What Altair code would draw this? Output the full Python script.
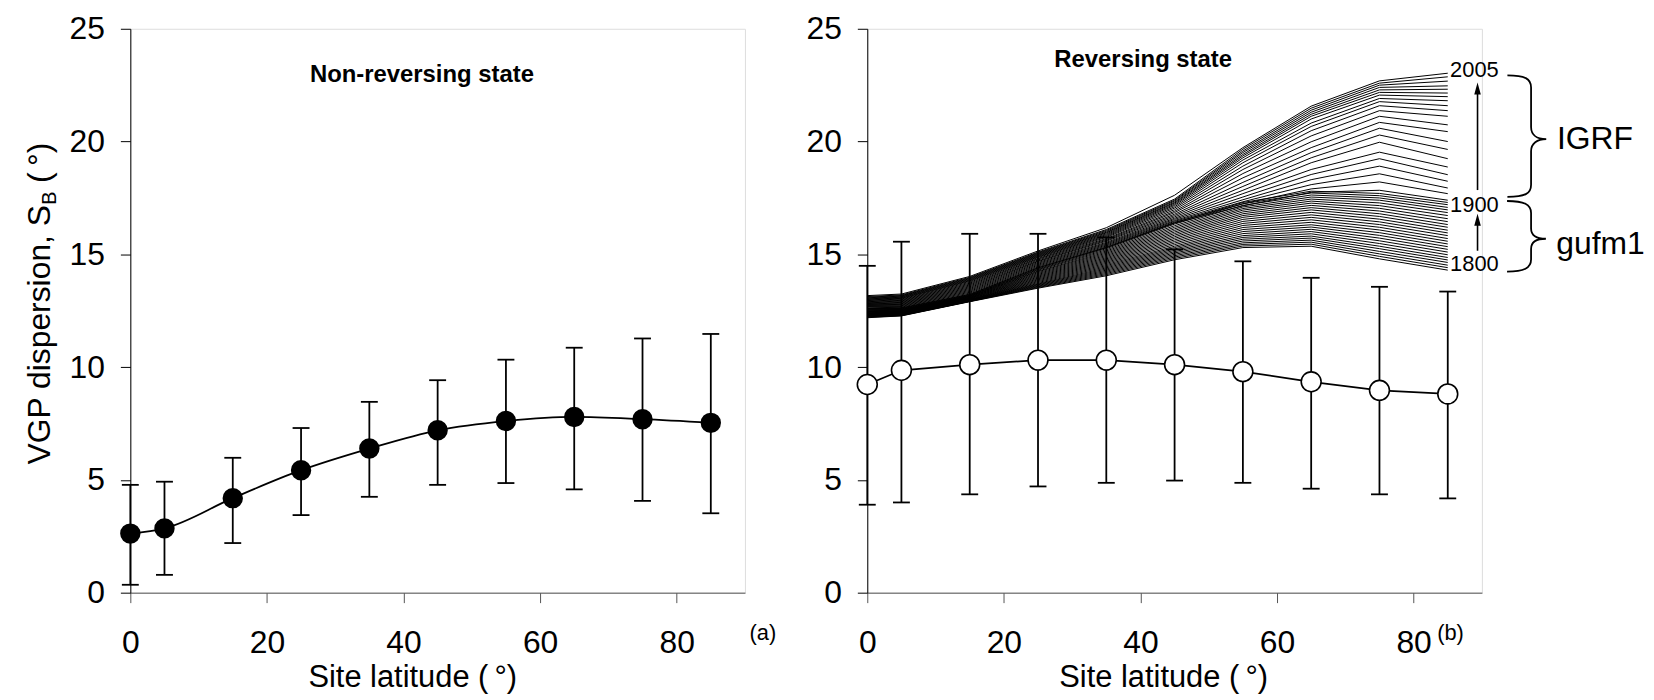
import altair as alt
import pandas as pd

FONT = "Liberation Sans"

# ---------------- data ----------------
lat = [0, 5, 15, 25, 35, 45, 55, 65, 75, 85]

# (a) Non-reversing state
nr_mean = [2.62, 2.85, 4.19, 5.43, 6.39, 7.20, 7.61, 7.79, 7.69, 7.53]
nr_low = [0.35, 0.79, 2.20, 3.44, 4.25, 4.78, 4.86, 4.58, 4.07, 3.52]
nr_high = [4.78, 4.92, 5.98, 7.30, 8.46, 9.42, 10.33, 10.86, 11.27, 11.47]

# (b) Reversing state
rv_mean = [9.23, 9.86, 10.11, 10.31, 10.31, 10.11, 9.80, 9.35, 8.97, 8.81]
rv_low = [3.90, 4.00, 4.36, 4.71, 4.87, 4.97, 4.87, 4.61, 4.36, 4.18]
rv_high = [14.49, 15.56, 15.91, 15.91, 15.75, 15.22, 14.69, 13.96, 13.56, 13.35]

# IGRF curves (2005 -> 1900), values listed per site latitude
igrf_years = [2005, 2000, 1995, 1990, 1985, 1980, 1975, 1970, 1965, 1960, 1955,
              1950, 1945, 1940, 1935, 1930, 1925, 1920, 1915, 1910, 1905, 1900]
igrf_lat0 = [13.17, 13.13, 13.10, 13.07, 13.05, 13.02, 13.00, 12.97, 12.95, 12.92, 12.90,
             12.87, 12.85, 12.82, 12.80, 12.78, 12.76, 12.74, 12.72, 12.70, 12.68, 12.66]
igrf_lat5 = [13.24, 13.20, 13.17, 13.15, 13.12, 13.10, 13.07, 13.05, 13.02, 12.99, 12.96,
             12.93, 12.90, 12.87, 12.84, 12.81, 12.78, 12.75, 12.72, 12.69, 12.66, 12.63]
igrf_lat15 = [14.02, 13.98, 13.95, 13.92, 13.89, 13.86, 13.83, 13.80, 13.76, 13.72, 13.68,
              13.64, 13.60, 13.56, 13.52, 13.48, 13.44, 13.40, 13.36, 13.32, 13.28, 13.24]
igrf_lat25 = [15.15, 15.10, 15.07, 15.04, 15.01, 14.98, 14.95, 14.92, 14.89, 14.86, 14.82,
              14.79, 14.75, 14.71, 14.68, 14.64, 14.60, 14.56, 14.52, 14.48, 14.44, 14.40]
igrf_lat35 = [16.18, 16.10, 16.06, 16.02, 15.98, 15.95, 15.91, 15.87, 15.83, 15.79, 15.75,
              15.70, 15.66, 15.62, 15.58, 15.53, 15.49, 15.45, 15.41, 15.37, 15.33, 15.29]
igrf_lat45 = [17.62, 17.45, 17.40, 17.36, 17.31, 17.27, 17.22, 17.17, 17.11, 17.05, 16.98,
              16.91, 16.85, 16.78, 16.72, 16.66, 16.60, 16.55, 16.50, 16.46, 16.42, 16.38]
igrf_lat55 = [19.73, 19.66, 19.58, 19.51, 19.43, 19.36, 19.28, 19.18, 19.06, 18.91, 18.76,
              18.58, 18.39, 18.19, 18.01, 17.84, 17.69, 17.54, 17.42, 17.33, 17.24, 17.15]
igrf_lat65 = [21.57, 21.48, 21.39, 21.30, 21.21, 21.12, 21.00, 20.82, 20.67, 20.48, 20.25,
              19.99, 19.73, 19.51, 19.28, 19.06, 18.76, 18.54, 18.31, 18.09, 17.90, 17.75]
igrf_lat75 = [22.69, 22.59, 22.50, 22.40, 22.29, 22.18, 22.06, 21.91, 21.77, 21.59, 21.37,
              21.12, 20.85, 20.59, 20.29, 19.97, 19.53, 19.24, 18.91, 18.57, 18.21, 17.84]
igrf_lat85 = [23.03, 22.87, 22.68, 22.47, 22.32, 22.15, 21.99, 21.81, 21.59, 21.37, 21.12,
              20.74, 20.44, 20.00, 19.65, 19.24, 18.87, 18.53, 18.24, 17.94, 17.69, 17.40]

# gufm1 curves (1900 -> 1800), values listed per site latitude
gufm_years = [1900, 1896, 1892, 1888, 1884, 1880, 1876, 1872, 1868, 1864, 1860, 1856, 1852,
              1848, 1844, 1840, 1836, 1832, 1828, 1824, 1820, 1816, 1812, 1808, 1804, 1800]
gufm_lat0 = [12.62, 12.60, 12.58, 12.56, 12.54, 12.52, 12.50, 12.48, 12.46, 12.45, 12.43, 12.41, 12.40,
             12.38, 12.37, 12.35, 12.34, 12.32, 12.31, 12.29, 12.28, 12.26, 12.25, 12.23, 12.21, 12.19]
gufm_lat5 = [12.62, 12.60, 12.58, 12.56, 12.55, 12.53, 12.52, 12.50, 12.49, 12.47, 12.46, 12.44, 12.43,
             12.42, 12.40, 12.39, 12.38, 12.36, 12.35, 12.34, 12.33, 12.31, 12.30, 12.29, 12.28, 12.27]
gufm_lat15 = [13.22, 13.20, 13.18, 13.17, 13.15, 13.14, 13.12, 13.11, 13.09, 13.08, 13.06, 13.05, 13.03,
              13.02, 13.00, 12.99, 12.98, 12.97, 12.96, 12.95, 12.94, 12.93, 12.92, 12.92, 12.91, 12.90]
gufm_lat25 = [14.40, 14.36, 14.33, 14.30, 14.26, 14.23, 14.19, 14.15, 14.11, 14.07, 14.03, 13.99, 13.95,
              13.91, 13.87, 13.83, 13.79, 13.75, 13.71, 13.68, 13.65, 13.62, 13.59, 13.56, 13.53, 13.50]
gufm_lat35 = [15.30, 15.25, 15.20, 15.15, 15.10, 15.05, 15.00, 14.95, 14.90, 14.85, 14.80, 14.75, 14.70,
              14.65, 14.60, 14.55, 14.50, 14.45, 14.40, 14.35, 14.30, 14.25, 14.20, 14.15, 14.10, 14.05]
gufm_lat45 = [16.40, 16.34, 16.27, 16.20, 16.13, 16.06, 15.99, 15.92, 15.85, 15.78, 15.71, 15.64, 15.57,
              15.50, 15.43, 15.36, 15.30, 15.24, 15.18, 15.12, 15.06, 15.00, 14.94, 14.88, 14.82, 14.76]
gufm_lat55 = [17.30, 17.24, 17.17, 17.10, 17.03, 16.96, 16.88, 16.80, 16.72, 16.64, 16.55, 16.46, 16.37,
              16.28, 16.19, 16.10, 16.01, 15.92, 15.83, 15.75, 15.67, 15.59, 15.51, 15.44, 15.37, 15.30]
gufm_lat65 = [17.80, 17.72, 17.63, 17.54, 17.45, 17.36, 17.27, 17.17, 17.07, 16.97, 16.86, 16.75, 16.64,
              16.53, 16.42, 16.31, 16.21, 16.11, 16.01, 15.91, 15.81, 15.72, 15.63, 15.54, 15.45, 15.36]
gufm_lat75 = [17.70, 17.60, 17.50, 17.40, 17.28, 17.16, 17.04, 16.92, 16.80, 16.68, 16.56, 16.44, 16.32,
              16.20, 16.08, 15.96, 15.84, 15.72, 15.60, 15.48, 15.36, 15.25, 15.13, 15.02, 14.91, 14.80]
gufm_lat85 = [17.30, 17.20, 17.08, 16.97, 16.85, 16.72, 16.58, 16.45, 16.32, 16.20, 16.07, 15.95, 15.83,
              15.70, 15.58, 15.46, 15.34, 15.22, 15.10, 14.98, 14.86, 14.75, 14.64, 14.52, 14.41, 14.30]

x_ticks = [0, 20, 40, 60, 80]
y_ticks = [0, 5, 10, 15, 20, 25]

# ---------------- tables ----------------
igrf_cols = [igrf_lat0, igrf_lat5, igrf_lat15, igrf_lat25, igrf_lat35,
             igrf_lat45, igrf_lat55, igrf_lat65, igrf_lat75, igrf_lat85]
gufm_cols = [gufm_lat0, gufm_lat5, gufm_lat15, gufm_lat25, gufm_lat35,
             gufm_lat45, gufm_lat55, gufm_lat65, gufm_lat75, gufm_lat85]
rows = []
for j, la in enumerate(lat):
    for i, yr in enumerate(igrf_years):
        rows.append({"lat": la, "val": igrf_cols[j][i], "series": f"IGRF {yr}"})
    for i, yr in enumerate(gufm_years):
        rows.append({"lat": la, "val": gufm_cols[j][i], "series": f"gufm1 {yr}"})
curves = pd.DataFrame(rows)

nr = pd.DataFrame({"lat": lat, "mean": nr_mean, "lo": nr_low, "hi": nr_high})
rv = pd.DataFrame({"lat": lat, "mean": rv_mean, "lo": rv_low, "hi": rv_high})

W, H = 618, 567
TICK_FS = 32


def X(field="lat"):
    return alt.X(f"{field}:Q", scale=alt.Scale(domain=[0, 90], nice=False, zero=False),
                 axis=alt.Axis(values=x_ticks, title=None))


def Y(field="val"):
    return alt.Y(f"{field}:Q", scale=alt.Scale(domain=[0, 25], nice=False, zero=False),
                 axis=alt.Axis(values=y_ticks, title=None))


def errbars(df):
    rules = alt.Chart(df).mark_rule(color="black", strokeWidth=1.8).encode(
        x=X(), y=Y("lo"), y2="hi:Q")
    cap_hi = alt.Chart(df).mark_tick(orient="horizontal", size=17, thickness=1.8,
                                     color="black", opacity=1).encode(x=X(), y=Y("hi"))
    cap_lo = alt.Chart(df).mark_tick(orient="horizontal", size=17, thickness=1.8,
                                     color="black", opacity=1).encode(x=X(), y=Y("lo"))
    return [rules, cap_hi, cap_lo]


def label(lat_v, val_v, text, size, weight="normal", align="center", baseline="middle"):
    d = pd.DataFrame({"lat": [lat_v], "val": [val_v], "t": [text]})
    return alt.Chart(d).mark_text(font=FONT, fontSize=size, fontWeight=weight, color="black",
                                  align=align, baseline=baseline).encode(
        x=X(), y=Y(), text="t:N")


def pix_text(px, py, text, size, angle=0, align="center", baseline="middle"):
    d = pd.DataFrame({"t": [text]})
    kw = dict(font=FONT, fontSize=size, color="black", align=align, baseline=baseline)
    if angle:
        kw["angle"] = angle
    return alt.Chart(d).mark_text(**kw).encode(x=alt.value(px), y=alt.value(py), text="t:N")


# ---------------- panel (a) ----------------
left_layers = errbars(nr) + [
    alt.Chart(nr).mark_line(color="black", strokeWidth=1.8, interpolate="monotone").encode(
        x=X(), y=Y("mean")),
    alt.Chart(nr).mark_point(shape="circle", filled=True, color="black", size=420,
                             opacity=1).encode(x=X(), y=Y("mean")),
    label(42.7, 22.97, "Non-reversing state", 24, weight="bold"),
    pix_text(636, 608, "(a)", 22),
    pix_text(284, 652.6, "Site latitude (\u2009°)", 31),
    pix_text(-81, 438, "VGP dispersion, S", 32, angle=270, align="left", baseline="alphabetic"),
    pix_text(-75, 177, "B", 20, angle=270, align="left", baseline="alphabetic"),
    pix_text(-81, 155, "(\u2009°)", 32, angle=270, align="left", baseline="alphabetic"),
]
left = alt.layer(*left_layers).properties(width=W, height=H)

# ---------------- panel (b) ----------------
IGRF_BRACE = ("M -0.39 -1 C -0.1 -1 0 -0.95 0 -0.8 L 0 -0.15 C 0 -0.02 0.1 0.05 0.25 0.05 "
              "C 0.1 0.05 0 0.12 0 0.25 L 0 0.8 C 0 0.95 -0.1 1 -0.39 1")
GUFM_BRACE = ("M -0.68 -1 C -0.2 -1 0 -0.9 0 -0.66 L 0 -0.22 C 0 -0.02 0.15 0.07 0.42 0.07 "
              "C 0.15 0.07 0 0.16 0 0.36 L 0 0.66 C 0 0.9 -0.2 1 -0.68 1")
HEAD = "M 0 -1 L 0.55 1 L -0.55 1 Z"

arrows = pd.DataFrame({"lat": [89.36, 89.36], "lo": [17.85, 15.16], "hi": [22.35, 16.53]})
heads = pd.DataFrame({"lat": [89.36, 89.36], "val": [22.35, 16.53]})


def brace(lat_v, val_v, path, size):
    d = pd.DataFrame({"lat": [lat_v], "val": [val_v]})
    return alt.Chart(d).mark_point(shape=path, size=size, filled=False, stroke="black",
                                   strokeWidth=1.8, opacity=1).encode(x=X(), y=Y())


right_layers = [
    alt.Chart(curves).mark_line(color="black", strokeWidth=1.0).encode(
        x=X(), y=Y("val"), detail="series:N"),
] + errbars(rv) + [
    alt.Chart(rv).mark_line(color="black", strokeWidth=1.8).encode(x=X(), y=Y("mean")),
    alt.Chart(rv).mark_point(shape="circle", filled=True, fill="white", stroke="black",
                             strokeWidth=1.6, size=400, opacity=1).encode(x=X(), y=Y("mean")),
    label(40.4, 23.63, "Reversing state", 24, weight="bold"),
    label(85.4, -1.78, "(b)", 22),
    label(88.9, 23.15, "2005", 22),
    label(88.9, 17.19, "1900", 22),
    label(88.9, 14.59, "1800", 22),
    alt.Chart(arrows).mark_rule(color="black", strokeWidth=1.6).encode(
        x=X(), y=Y("lo"), y2="hi:Q"),
    alt.Chart(heads).mark_point(shape=HEAD, size=144, filled=True, color="black",
                                opacity=1).encode(x=X(), y=Y()),
    brace(97.2, 20.24, IGRF_BRACE, 14884),
    brace(97.2, 15.80, GUFM_BRACE, 5041),
    label(101.0, 19.66, "IGRF", 32, align="left", baseline="alphabetic"),
    label(100.9, 15.03, "gufm1", 32, align="left", baseline="alphabetic"),
    pix_text(298, 652.6, "Site latitude (\u2009°)", 31),
]
right = alt.layer(*right_layers).properties(width=W, height=H)

chart = alt.hconcat(left, right, spacing=123, bounds="flush").properties(
    padding={"left": 15, "top": 2, "right": 0, "bottom": 0}
).configure_view(stroke=None).configure(background="white").configure_axis(
    labelFont=FONT, labelFontSize=TICK_FS, labelColor="black", tickSize=10, grid=False,
    labelFlush=False, labelOverlap=False, domainWidth=1, tickWidth=1
).configure_axisX(
    labelPadding=25, domainColor="#555555", tickColor="#555555"
).configure_axisY(
    labelPadding=16, domainColor="black", tickColor="black"
)

chart.save("out.html", embed_options={"renderer": "svg", "actions": False})
